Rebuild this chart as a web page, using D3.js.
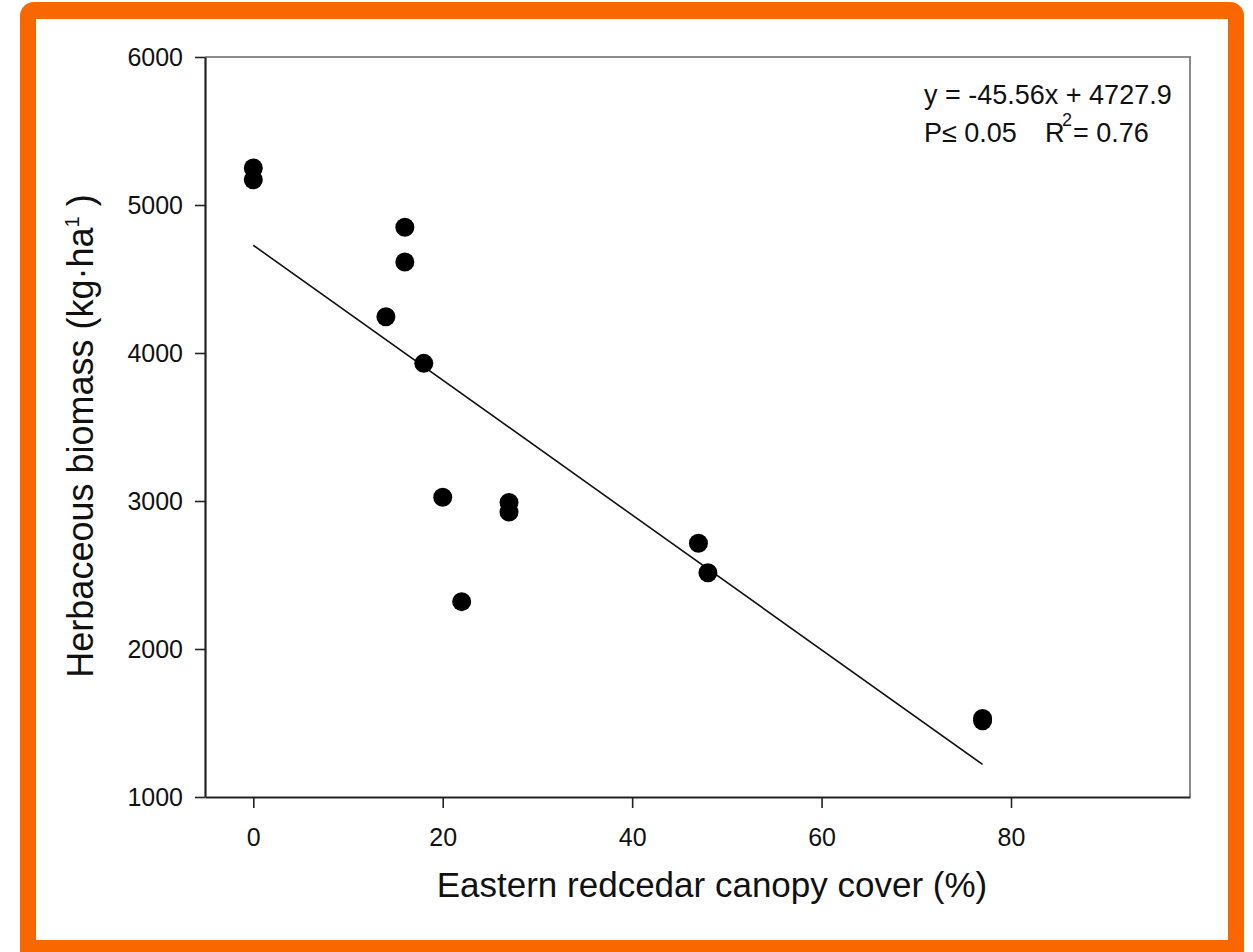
<!DOCTYPE html>
<html>
<head>
<meta charset="utf-8">
<script src="https://cdn.jsdelivr.net/npm/d3@7"></script>
<style>
  body { margin: 0; background: #fff; }
  text { font-family: "Liberation Sans", Arial, sans-serif; fill: #111; }
</style>
</head>
<body>
<div class="canvas"></div>
<script>
// Data
const cover   = [0, 0, 16, 16, 14, 18, 20, 27, 27, 22, 47, 48, 77, 77]
const biomass = [5250, 5170, 4850, 4615, 4245, 3930, 3025, 2990, 2925, 2320, 2715, 2515, 1530, 1515]
const xTicks = [0, 20, 40, 60, 80]
const yTicks = [1000, 2000, 3000, 4000, 5000, 6000]
const slope = -45.56
const intercept = 4727.9
const fitRange = [0, 77]

const wWidth = 1253
const wHeight = 952

const svg = d3.select('.canvas')
    .append('svg')
    .attr('width', wWidth)
    .attr('height', wHeight)

// orange frame round the picture
svg.append('rect')
    .attr('x', 20).attr('y', 2)
    .attr('width', 1224).attr('height', 970)
    .attr('rx', 14)
    .attr('fill', '#f96800')
svg.append('rect')
    .attr('x', 36).attr('y', 19)
    .attr('width', 1192).attr('height', 921)
    .attr('fill', '#fff')

// plot area
const plot = {left: 205, right: 1190, top: 57, bottom: 797}

const xScale = d3.scaleLinear()
    .domain([-5.1, 98.9])
    .range([plot.left, plot.right])
const yScale = d3.scaleLinear()
    .domain([1000, 6000])
    .range([plot.bottom, plot.top])

// grey top / right frame
svg.append('path')
    .attr('d', `M${plot.left},${plot.top}H${plot.right}V${plot.bottom}`)
    .attr('fill', 'none')
    .attr('stroke', '#8a8a8a')
    .attr('stroke-width', 2)

// axes
const xAxisGroup = svg.append('g')
    .attr('transform', `translate(0, ${plot.bottom})`)
    .call(d3.axisBottom(xScale).tickValues(xTicks).tickFormat(d3.format('d'))
        .tickSize(11).tickSizeOuter(0).tickPadding(20))
const yAxisGroup = svg.append('g')
    .attr('transform', `translate(${plot.left}, 0)`)
    .call(d3.axisLeft(yScale).tickValues(yTicks).tickFormat(d3.format('d'))
        .tickSize(10).tickSizeOuter(0).tickPadding(12))

;[xAxisGroup, yAxisGroup].forEach(g => {
    g.select('.domain').attr('stroke', '#222').attr('stroke-width', 2.2)
    g.selectAll('.tick line').attr('stroke', '#222').attr('stroke-width', 1.6)
    g.selectAll('.tick text')
        .attr('fill', '#111')
        .style('font-family', '"Liberation Sans", Arial, sans-serif')
        .style('font-size', '25px')
})

// regression line
svg.append('line')
    .attr('x1', xScale(fitRange[0]))
    .attr('y1', yScale(intercept + slope * fitRange[0]))
    .attr('x2', xScale(fitRange[1]))
    .attr('y2', yScale(intercept + slope * fitRange[1]))
    .attr('stroke', '#111')
    .attr('stroke-width', 1.6)

// points
svg.selectAll('circle')
    .data(cover.map((c, i) => ({x: c, y: biomass[i]})))
    .enter()
    .append('circle')
    .attr('cx', d => xScale(d.x))
    .attr('cy', d => yScale(d.y))
    .attr('r', 9.5)
    .attr('fill', '#000')

// equation text
svg.append('text')
    .attr('x', 924).attr('y', 104)
    .style('font-size', '27px')
    .text('y = -45.56x + 4727.9')
const stat = svg.append('text')
    .attr('y', 142)
    .style('font-size', '27px')
stat.append('tspan').attr('x', 924).text('P\u2264 0.05')
stat.append('tspan').attr('x', 1045).text('R')
stat.append('tspan').attr('x', 1062).attr('dy', -16).style('font-size', '18px').text('2')
stat.append('tspan').attr('x', 1073).attr('dy', 16).text('= 0.76')

// axis titles
svg.append('text')
    .attr('x', 712)
    .attr('y', 897)
    .style('text-anchor', 'middle')
    .style('font-size', '35px')
    .text('Eastern redcedar canopy cover (%)')

const yTitle = svg.append('text')
    .attr('transform', `translate(93, 436) rotate(-90)`)
    .style('text-anchor', 'middle')
    .style('font-size', '36px')
yTitle.append('tspan').text('Herbaceous biomass (kg\u00b7ha')
yTitle.append('tspan').attr('dy', -14).style('font-size', '20px').text('1')
yTitle.append('tspan').attr('dy', 14).text(' )')
</script>
</body>
</html>
